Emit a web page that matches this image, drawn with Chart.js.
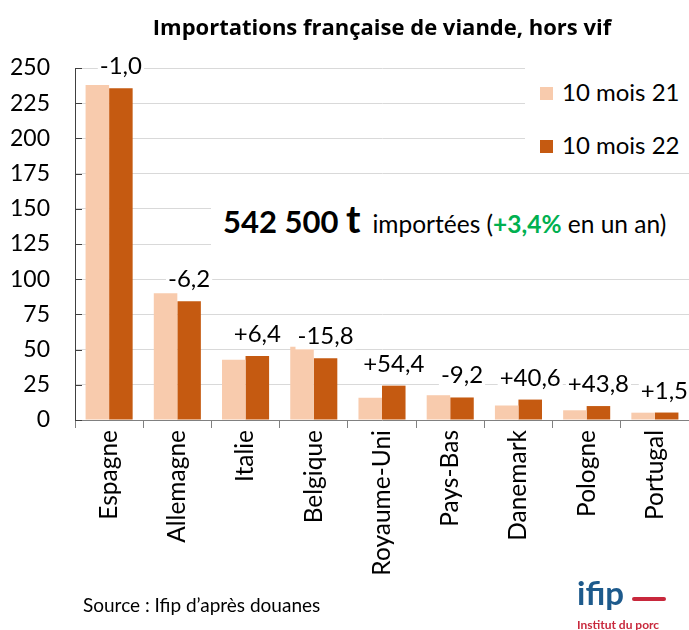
<!DOCTYPE html>
<html>
<head>
<meta charset="utf-8">
<script src="https://cdn.jsdelivr.net/npm/chart.js@4.4.1/dist/chart.umd.min.js"></script>
<style>
    body { margin: 0; background: #fff; }
    #wrap { position: relative; width: 689px; height: 630px; font-family: Lato, "Open Sans", sans-serif; color: #000; overflow: hidden; }
    #wrap canvas { position: absolute; left: 0; top: 0; }
    .title { position: absolute; left: 75px; right: 0; top: 12px; text-align: center; font-family: "Open Sans", sans-serif; font-weight: bold; font-size: 22px; line-height: 28px; }
    .legend { position: absolute; left: 525px; top: 58px; width: 164px; height: 108px; background: #fff; }
    .legend div { position: absolute; left: 15px; font-size: 24px; line-height: 26px; white-space: nowrap; }
    .legend span { display: inline-block; width: 13px; height: 13px; margin-right: 9px; vertical-align: 1px; }
    .note { position: absolute; left: 211px; top: 182px; width: 478px; height: 82px; background: #fff; }
    .note p { position: absolute; left: 12px; top: 16px; margin: 0; white-space: nowrap; font-size: 24.5px; line-height: 40px; }
    .note b.big { font-size: 31px; }
    .note b.t { font-size: 39px; margin-right: 12px; }
    .note b.up { color: #00b050; }
    .source { position: absolute; left: 83px; top: 594px; font-size: 19px; line-height: 22px; color: #000; }
    .logo { position: absolute; left: 577px; top: 572px; width: 100px; height: 60px; }
    .logo .ifip { position: absolute; left: 0; top: 0; font-weight: bold; font-size: 33px; line-height: 40px; color: #1d5a8c; }
    .logo .dash { position: absolute; left: 55px; top: 25px; width: 34px; height: 4px; border-radius: 2px; background: #c8283c; }
    .logo .inst { position: absolute; left: 0; top: 45px; font-weight: bold; font-size: 12px; color: #c8283c; white-space: nowrap; }
</style>
</head>
<body>
<div id="wrap">
    <canvas id="chart" width="689" height="630"></canvas>
    <div class="title">Importations française de viande, hors vif</div>
    <div class="note" id="note"><p><b class="big">542 500 </b><b class="t">t</b>importées (<b class="up">+3,4%</b> en un an)</p></div>
    <div class="legend" id="legend"></div>
    <div class="source">Source : Ifip d’après douanes</div>
    <div class="logo">
        <div class="ifip">ifip</div>
        <div class="dash"></div>
        <div class="inst">Institut du porc</div>
    </div>
</div>
<script>
// milliers de tonnes
const categories = ["Espagne", "Allemagne", "Italie", "Belgique", "Royaume-Uni", "Pays-Bas", "Danemark", "Pologne", "Portugal"];
const seriesNames = ["10 mois 21", "10 mois 22"];
const values21 = [238, 90, 42.8, 52, 15.8, 17.6, 10.3, 6.9, 5.2];
const values22 = [235.6, 84.4, 45.5, 43.8, 24.4, 16.0, 14.5, 9.9, 5.3];
const changes = ["-1,0", "-6,2", "+6,4", "-15,8", "+54,4", "-9,2", "+40,6", "+43,8", "+1,5"];
const colors = ["#F8CBAD", "#C55A11"];

const FONT = "Lato, 'Open Sans', sans-serif";

// petits traits de graduation a l'interieur de l'axe Y
const innerTicks = {
    id: "innerTicks",
    afterDraw(chart) {
        const ctx = chart.ctx;
        const y = chart.scales.y;
        ctx.save();
        ctx.strokeStyle = "#404040";
        ctx.lineWidth = 1;
        for (const t of y.ticks) {
            const py = Math.round(y.getPixelForValue(t.value)) + 0.5;
            ctx.beginPath();
            ctx.moveTo(y.right, py);
            ctx.lineTo(y.right + 7, py);
            ctx.stroke();
        }
        ctx.restore();
    }
};

// variation en % au-dessus de la barre 2022
const changeLabels = {
    id: "changeLabels",
    afterDatasetsDraw(chart) {
        const ctx = chart.ctx;
        const meta = chart.getDatasetMeta(1);
        ctx.save();
        ctx.font = "24px " + FONT;
        ctx.textAlign = "center";
        ctx.textBaseline = "alphabetic";
        meta.data.forEach((bar, i) => {
            const txt = changes[i];
            const w = ctx.measureText(txt).width;
            let x = bar.x;
            if (x + w / 2 > chart.width - 1) x = chart.width - 1 - w / 2;
            const base = bar.y - 14;
            ctx.fillStyle = "#fff";
            ctx.fillRect(x - w / 2 - 2, base - 19, w + 4, 24);
            ctx.fillStyle = "#000";
            ctx.fillText(txt, x, base);
        });
        ctx.restore();
    }
};

const chart = new Chart(document.getElementById("chart"), {
    type: "bar",
    data: {
        labels: categories,
        datasets: [
            { label: seriesNames[0], data: values21, backgroundColor: colors[0], categoryPercentage: 0.69, barPercentage: 1.0 },
            { label: seriesNames[1], data: values22, backgroundColor: colors[1], categoryPercentage: 0.69, barPercentage: 1.0 }
        ]
    },
    options: {
        responsive: false,
        animation: false,
        layout: { padding: { top: 68, right: 0, left: 0, bottom: 0 } },
        plugins: {
            legend: { display: false },
            tooltip: { enabled: false }
        },
        scales: {
            x: {
                grid: { display: true, drawOnChartArea: false, drawTicks: true, tickLength: 8, color: "#808080", offset: true },
                border: { color: "#808080", width: 1 },
                ticks: { minRotation: 90, maxRotation: 90, autoSkip: false, padding: 2, color: "#000", font: { family: FONT, size: 24.5 } },
                afterFit(scale) { scale.height = 210; }
            },
            y: {
                min: 0,
                max: 250,
                grid: { color: "#d9d9d9", drawTicks: false },
                border: { color: "#404040", width: 1 },
                ticks: { stepSize: 25, padding: 25, color: "#000", font: { family: FONT, size: 23 } },
                afterFit(scale) { scale.width = 75; }
            }
        }
    },
    plugins: [innerTicks, changeLabels]
});

// legende construite depuis les series du graphique
const legend = document.getElementById("legend");
chart.data.datasets.forEach((ds, i) => {
    const row = document.createElement("div");
    row.style.top = (i === 0 ? 21 : 74) + "px";
    row.innerHTML = `<span style="background:${ds.backgroundColor}"></span>${ds.label}`;
    legend.appendChild(row);
});
</script>
</body>
</html>
